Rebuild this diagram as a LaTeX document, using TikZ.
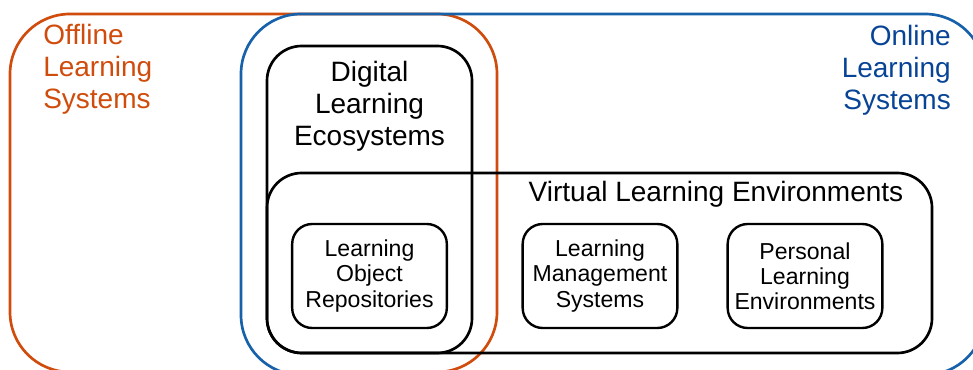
\documentclass[tikz,border=0pt]{standalone}
\usepackage{fontspec}
\setmainfont{Liberation Sans}
\usetikzlibrary{positioning}
\definecolor{offlinecolor}{RGB}{208,76,12}
\definecolor{onlinecolor}{RGB}{22,97,170}
\definecolor{onlinetext}{RGB}{8,68,150}
\tikzset{
  region/.style={
    draw,
    rectangle,
    rounded corners=45pt,
    line width=2pt,
    inner sep=0pt
  },
  group/.style={
    draw,
    rectangle,
    rounded corners=26pt,
    line width=2pt,
    inner sep=0pt
  },
  system/.style={
    draw,
    rectangle,
    rounded corners=15pt,
    line width=1.8pt,
    minimum width=116pt,
    minimum height=78pt,
    align=center,
    font=\fontsize{17.3}{18.9}\selectfont
  },
  title/.style={
    inner sep=0pt,
    font=\fontsize{21}{24}\selectfont
  }
}

\begin{document}
\begin{tikzpicture}[x=0.75pt, y=-0.75pt]
    \useasboundingbox (0,0) rectangle (973,370);
    \clip (0,0) rectangle (973,370);

    \node[region, draw=offlinecolor, minimum width=365.25pt, minimum height=268.5pt] (offline) at (253.5,193) {};
    \node[region, draw=onlinecolor, minimum width=558pt, minimum height=270.75pt] (online) at (613,194.5) {};
    \node[group, minimum width=153.75pt, minimum height=230.25pt] (dle) at (369.5,199.5) {};
    \node[group, minimum width=498.75pt, minimum height=135pt] (vle) at (599.5,263) {};

    \node[title, anchor=north west, align=left, text=offlinecolor] (offlinelabel) at (43,24) {Offline\\Learning\\Systems};
    \node[title, anchor=north east, align=right, text=onlinetext] (onlinelabel) at (951,25) {Online\\Learning\\Systems};
    \node[title, anchor=north, align=center] (dlelabel) at (369.5,61) {Digital\\Learning\\Ecosystems};
    \node[title, anchor=north] (vlelabel) at (716,181) {Virtual Learning Environments};

    \node[system] (lor) at (369.5,276) {Learning\\Object\\Repositories};
    \node[system] (lms) at (600,276) {Learning\\Management\\Systems};
    \node[system] (ple) at (805,276) {Personal\\Learning\\Environments};
\end{tikzpicture}
\end{document}
